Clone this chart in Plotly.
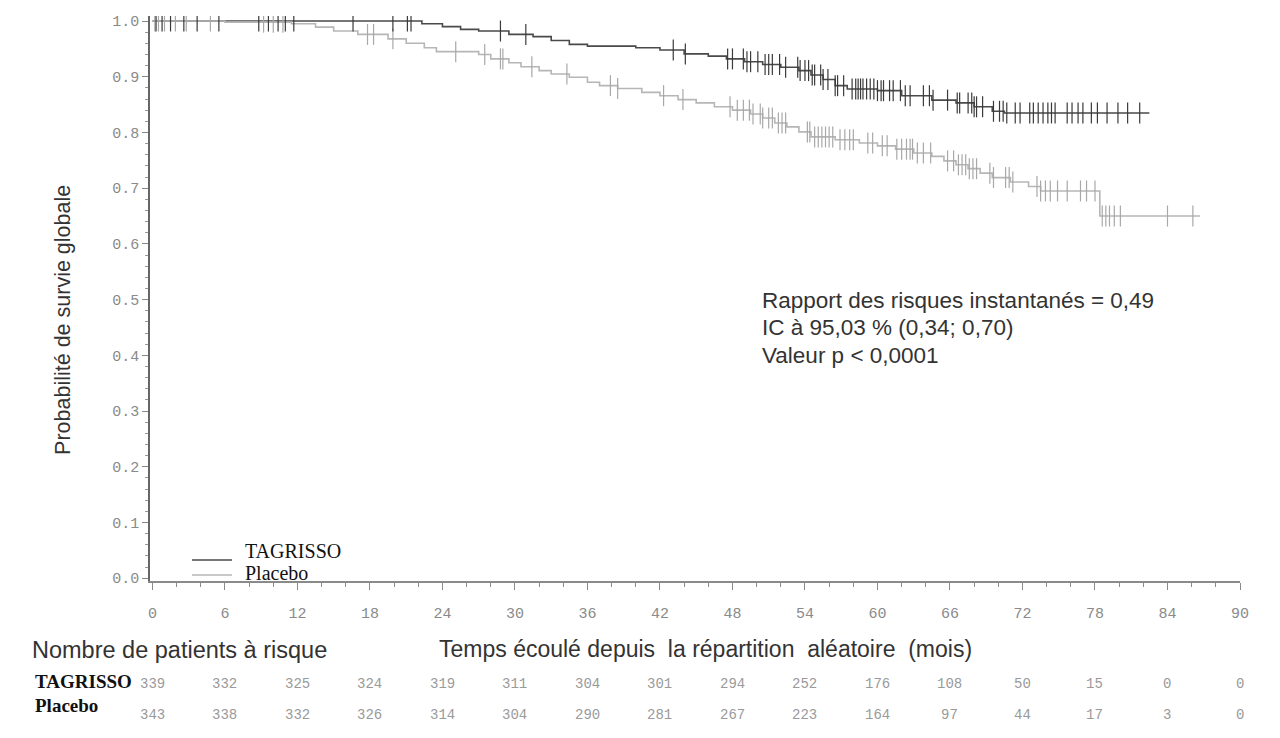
import numpy as np
import plotly.graph_objects as go

# ---------------- data ----------------
tag_t = [0, 22.3, 24, 25.5, 27, 29.5, 31.5, 33, 34.5, 36, 40, 42, 44, 46, 47.5, 49, 50.5,
         52, 53.5, 54.5, 55.5, 56.5, 57.5, 60, 62, 64.5, 66.5, 68, 69.5, 70.5]
tag_s = [1.0, 0.995, 0.99, 0.985, 0.982, 0.976, 0.972, 0.965, 0.958, 0.955, 0.952, 0.948,
         0.941, 0.937, 0.932, 0.927, 0.922, 0.917, 0.911, 0.903, 0.895, 0.884, 0.878, 0.875,
         0.866, 0.858, 0.853, 0.846, 0.838, 0.835]
tag_end = 82.5

pla_t = [0, 6, 11.5, 13.5, 15, 17, 19.5, 21, 22.5, 23.5, 27, 28, 29.5, 30.5, 32, 33, 34.5,
         36, 37, 38.5, 40.5, 42, 43.5, 45, 46.5, 48, 49.5, 50.5, 51.5, 52.5, 53.5, 54.5,
         56.5, 58.5, 60, 61.5, 63, 64.5, 65.5, 66.5, 67.5, 68.5, 69.5, 71, 72.5, 73.5, 78.4]
pla_s = [1.0, 0.998, 0.995, 0.989, 0.982, 0.976, 0.968, 0.96, 0.952, 0.945, 0.94, 0.932,
         0.925, 0.918, 0.911, 0.905, 0.899, 0.89, 0.884, 0.879, 0.872, 0.866, 0.859, 0.853,
         0.846, 0.84, 0.833, 0.826, 0.817, 0.81, 0.801, 0.792, 0.787, 0.781, 0.776, 0.77,
         0.763, 0.757, 0.749, 0.742, 0.735, 0.727, 0.719, 0.711, 0.703, 0.695, 0.65]
pla_end = 86.7

tag_cens = [0.3, 0.8, 1.5, 2.6, 3.7, 5.5, 8.8, 9.6, 10.4, 11.0, 11.7, 16.6, 19.9, 21.1, 21.4,
            28.8, 30.9, 43.1, 44.1, 47.6, 48.0, 48.9, 49.2, 49.5, 50.1, 50.7, 51.0, 51.3,
            51.9, 52.4, 53.4, 53.6, 54.0, 54.3, 54.6, 54.8, 55.3, 55.5, 55.9, 56.5, 56.7,
            57.2, 57.9, 58.2, 58.4, 58.6, 58.8, 59.1, 59.4, 59.7, 60.0, 60.3, 60.5, 61.0,
            61.3, 61.9, 62.3, 62.7, 63.8, 64.3, 64.6, 65.8, 66.6, 66.8, 67.5, 67.8, 68.0,
            68.2, 68.7, 69.6, 70.1, 70.4, 70.7, 71.4, 71.8, 72.6, 72.9, 73.3, 73.7, 74.1,
            74.4, 74.7, 75.7, 76.1, 76.6, 77.0, 77.7, 78.2, 79.0, 79.9, 80.7, 81.7]
pla_cens = [0.2, 0.5, 1.0, 1.9, 2.8, 4.8, 9.2, 10.0, 10.8, 17.8, 18.3, 19.9, 25.1, 27.5,
            28.8, 29.0, 31.4, 34.3, 37.9, 38.5, 42.3, 43.9, 47.8, 48.4, 48.9, 49.4, 49.7,
            50.3, 50.5, 51.0, 51.3, 51.8, 52.1, 52.4, 54.2, 54.4, 54.8, 55.1, 55.4, 55.7,
            56.0, 56.3, 56.9, 57.3, 57.7, 58.0, 59.2, 59.6, 60.4, 60.8, 61.6, 62.0, 62.4,
            62.7, 62.9, 63.3, 63.8, 64.4, 65.8, 66.3, 66.7, 67.0, 67.3, 67.6, 67.9, 68.2,
            69.3, 69.6, 70.6, 70.9, 71.2, 73.2, 73.5, 73.9, 74.3, 74.9, 75.7, 76.8, 77.3,
            78.0, 78.6, 78.9, 79.2, 79.6, 80.1, 84.0, 86.1]

risk_times = [0, 6, 12, 18, 24, 30, 36, 42, 48, 54, 60, 66, 72, 78, 84, 90]
risk_tag = [339, 332, 325, 324, 319, 311, 304, 301, 294, 252, 176, 108, 50, 15, 0, 0]
risk_pla = [343, 338, 332, 326, 314, 304, 290, 281, 267, 223, 164, 97, 44, 17, 3, 0]

series_names = ["TAGRISSO", "Placebo"]

x_ticks = list(range(0, 91, 6))
y_ticks = [round(0.1 * i, 1) for i in range(11)]

DARK = "#4a4a4a"
LIGHT = "#b6b6b6"


def step_xy(t, s, end):
    return list(t) + [end], list(s) + [s[-1]]


def cens_y(t, s, c):
    idx = np.searchsorted(np.array(t), np.array(c), side="right") - 1
    return np.array(s)[idx]


fig = go.Figure()

tx, ty = step_xy(tag_t, tag_s, tag_end)
px_, py_ = step_xy(pla_t, pla_s, pla_end)

fig.add_trace(go.Scatter(x=tx, y=ty, mode="lines", line=dict(color=DARK, width=1.6, shape="hv"),
                         name=series_names[0], showlegend=False))
fig.add_trace(go.Scatter(x=px_, y=py_, mode="lines", line=dict(color=LIGHT, width=1.6, shape="hv"),
                         name=series_names[1], showlegend=False))
fig.add_trace(go.Scatter(x=pla_cens, y=cens_y(pla_t, pla_s, pla_cens), mode="markers",
                         marker=dict(symbol="line-ns", size=15, line=dict(color="#a8a8a8", width=1.2)),
                         showlegend=False, hoverinfo="skip"))
fig.add_trace(go.Scatter(x=tag_cens, y=cens_y(tag_t, tag_s, tag_cens), mode="markers",
                         marker=dict(symbol="line-ns", size=15, line=dict(color="#3a3a3a", width=1.2)),
                         showlegend=False, hoverinfo="skip"))

# page has an 8px body margin; plot area on screen spans x 150..1240, y 14..581
W, H = 1272, 730
L, T = 142, 6
R = W - 1232
B = H - 573
PW, PH = 1090, 567


def px2x(p):
    return (p - 150) / PW


def py2y(p):
    return (581 - p) / PH


ann = []
sans = "Liberation Sans, Arial, sans-serif"
serif = "Liberation Serif, Times New Roman, serif"
mono = "Liberation Mono, Courier New, monospace"
NB = "&nbsp;"

for t, v in zip(risk_times, risk_tag):
    ann.append(dict(x=t, xref="x", y=py2y(684), yref="paper", text=str(v), showarrow=False,
                    font=dict(family=mono, size=14, color="#9a9a9a"), xanchor="center", yanchor="middle"))
for t, v in zip(risk_times, risk_pla):
    ann.append(dict(x=t, xref="x", y=py2y(715), yref="paper", text=str(v), showarrow=False,
                    font=dict(family=mono, size=14, color="#9a9a9a"), xanchor="center", yanchor="middle"))

ann += [
    dict(x=px2x(33), y=py2y(682), xref="paper", yref="paper", text="<b>TAGRISSO</b>", showarrow=False,
         xanchor="left", yanchor="middle", font=dict(family=serif, size=19, color="#111")),
    dict(x=px2x(33), y=py2y(706), xref="paper", yref="paper", text="<b>Placebo</b>", showarrow=False,
         xanchor="left", yanchor="middle", font=dict(family=serif, size=19, color="#111")),
    dict(x=px2x(30), y=py2y(650), xref="paper", yref="paper", text="Nombre de patients à risque",
         showarrow=False, xanchor="left", yanchor="middle", font=dict(family=sans, size=23.5, color="#333")),
    dict(x=px2x(437), y=py2y(649), xref="paper", yref="paper",
         text="Temps écoulé depuis" + NB + " la répartition" + NB + " aléatoire" + NB + " (mois)",
         showarrow=False, xanchor="left", yanchor="middle", font=dict(family=sans, size=23, color="#333")),
    dict(x=px2x(63), y=py2y(319), xref="paper", yref="paper", text="Probabilité de survie globale",
         textangle=-90, showarrow=False, xanchor="center", yanchor="middle",
         font=dict(family=sans, size=21.5, color="#333")),
    dict(x=px2x(760), y=py2y(300), xref="paper", yref="paper",
         text="Rapport des risques instantanés = 0,49", showarrow=False, xanchor="left", yanchor="middle",
         font=dict(family=sans, size=22.5, color="#333")),
    dict(x=px2x(760), y=py2y(327), xref="paper", yref="paper",
         text="IC à 95,03 % (0,34; 0,70)", showarrow=False, xanchor="left", yanchor="middle",
         font=dict(family=sans, size=22.5, color="#333")),
    dict(x=px2x(760), y=py2y(355), xref="paper", yref="paper",
         text="Valeur p < 0,0001", showarrow=False, xanchor="left", yanchor="middle",
         font=dict(family=sans, size=22.5, color="#333")),
    # legend labels
    dict(x=px2x(243), y=py2y(551), xref="paper", yref="paper", text=series_names[0], showarrow=False,
         xanchor="left", yanchor="middle", font=dict(family=serif, size=20, color="#111")),
    dict(x=px2x(243), y=py2y(573), xref="paper", yref="paper", text=series_names[1], showarrow=False,
         xanchor="left", yanchor="middle", font=dict(family=serif, size=20, color="#111")),
]

shapes = [
    dict(type="line", xref="paper", yref="paper", x0=px2x(192), x1=px2x(232), y0=py2y(560), y1=py2y(560),
         line=dict(color=DARK, width=1.6)),
    dict(type="line", xref="paper", yref="paper", x0=px2x(192), x1=px2x(232), y0=py2y(575), y1=py2y(575),
         line=dict(color=LIGHT, width=1.6)),
]

fig.update_layout(
    width=W, height=H,
    margin=dict(l=L, r=R, t=T, b=B),
    plot_bgcolor="white", paper_bgcolor="white",
    annotations=ann,
    shapes=shapes,
    showlegend=False,
    xaxis=dict(range=[-0.2, 90.0], tickvals=x_ticks, ticktext=[str(v) for v in x_ticks],
               showgrid=False, zeroline=False, showline=True, linecolor="#8a8a8a", linewidth=2,
               ticks="outside", ticklen=7, tickcolor="#8a8a8a", tickwidth=1,
               minor=dict(dtick=2, tick0=0, ticks="outside", ticklen=4, tickcolor="#8a8a8a"),
               ticklabelstandoff=10,
               tickfont=dict(family=mono, size=15, color="#8a8a8a")),
    yaxis=dict(range=[-0.005, 1.009], tickvals=y_ticks, ticktext=[f"{v:.1f}" for v in y_ticks],
               showgrid=False, zeroline=False, showline=True, linecolor="#666", linewidth=1.5,
               ticks="outside", ticklen=6, tickcolor="#888", tickwidth=1,
               minor=dict(dtick=0.02, tick0=0, ticks="outside", ticklen=3, tickcolor="#999"),
               tickfont=dict(family=mono, size=15, color="#8a8a8a")),
)

fig.write_html("out.html")
